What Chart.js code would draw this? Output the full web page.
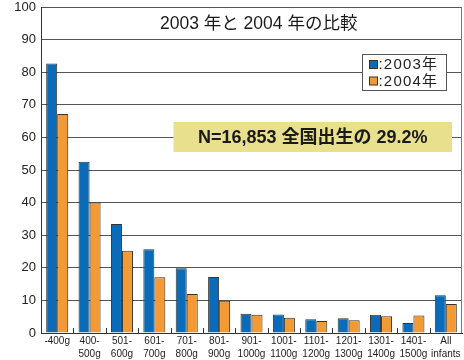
<!DOCTYPE html>
<html>
<head>
<meta charset="utf-8">
<script src="https://cdn.jsdelivr.net/npm/chart.js@4"></script>
<style>
  html, body { margin: 0; padding: 0; background: #fff; }
  #wrap { width: 464px; height: 360px; position: relative; }
</style>
</head>
<body>
<div id="wrap"><canvas id="c" width="464" height="360"></canvas></div>
<script>
// ---- data ----
const categories = [
  ['-400g'], ['400-', '500g'], ['501-', '600g'], ['601-', '700g'], ['701-', '800g'],
  ['801-', '900g'], ['901-', '1000g'], ['1001-', '1100g'], ['1101-', '1200g'],
  ['1201-', '1300g'], ['1301-', '1400g'], ['1401-', '1500g'], ['All', 'infants']
];
const series2003 = [82.7, 52.5, 33.4, 25.7, 19.9, 17.2, 5.9, 5.7, 4.2, 4.5, 5.6, 3.1, 11.6];
const series2004 = [67.2, 40.0, 25.2, 17.1, 12.0, 9.9, 5.6, 4.7, 3.7, 3.9, 5.1, 5.4, 8.9];
const seriesLabels = [':2003年', ':2004年'];
const yTickValues = [0, 10, 20, 30, 40, 50, 60, 70, 80, 90, 100];
const titleText = '2003 年と 2004 年の比較';
const noteText = 'N=16,853 全国出生の 29.2%';

const FONT = "'Liberation Sans', 'Noto Sans CJK JP', sans-serif";

const overlay = {
  id: 'overlay',
  afterDatasetsDraw(chart) {
    const ctx = chart.ctx;
    const a = chart.chartArea;
    const xs = chart.scales.x;
    ctx.save();
    // right border
    ctx.strokeStyle = '#777';
    ctx.lineWidth = 1;
    ctx.beginPath();
    ctx.moveTo(a.right - 0.5, a.top);
    ctx.lineTo(a.right - 0.5, a.bottom);
    ctx.stroke();
    // inner tick marks between categories
    ctx.strokeStyle = '#333';
    const n = chart.data.labels.length;
    for (let i = 0; i < n - 1; i++) {
      const x = Math.round((xs.getPixelForValue(i) + xs.getPixelForValue(i + 1)) / 2) + 0.5;
      ctx.beginPath();
      ctx.moveTo(x, a.bottom);
      ctx.lineTo(x, a.bottom - 5);
      ctx.stroke();
    }
    // title
    ctx.fillStyle = '#1a1a1a';
    ctx.font = "17.5px " + FONT;
    ctx.textAlign = 'center';
    ctx.textBaseline = 'middle';
    ctx.fillText(titleText, a.left + (a.right - a.left) * 0.517, a.top + 17.5);
    // legend box
    const lx = a.right - 99.5, ly = a.top + 47.5, lw = 84, lh = 36;
    ctx.fillStyle = '#fff';
    ctx.fillRect(lx, ly, lw, lh);
    ctx.strokeStyle = '#555';
    ctx.strokeRect(lx, ly, lw, lh);
    chart.data.datasets.forEach((ds, i) => {
      const ry = ly + 6 + i * 16.5;
      ctx.fillStyle = ds.backgroundColor;
      ctx.fillRect(lx + 7, ry, 8, 8);
      ctx.strokeStyle = '#333';
      ctx.strokeRect(lx + 7, ry, 8, 8);
      ctx.fillStyle = '#222';
      ctx.font = "15px " + FONT;
      ctx.letterSpacing = '1.2px';
      ctx.textAlign = 'left';
      ctx.textBaseline = 'middle';
      ctx.fillText(ds.label, lx + 16, ry + 4.5);
      ctx.letterSpacing = '0px';
    });
    // note box
    const nx = a.left + 132.5, ny = a.top + 115, nw = a.right - 10 - nx, nh = 30;
    ctx.fillStyle = '#E9E08E';
    ctx.fillRect(nx, ny, nw, nh);
    ctx.fillStyle = '#1a1a1a';
    ctx.font = "bold 18px " + FONT;
    ctx.textAlign = 'center';
    ctx.textBaseline = 'middle';
    ctx.fillText(noteText, nx + nw / 2, ny + nh / 2 + 1);
    ctx.restore();
  }
};

new Chart(document.getElementById('c'), {
  type: 'bar',
  data: {
    labels: categories,
    datasets: [
      { label: seriesLabels[0], data: series2003, backgroundColor: '#0A6CB8',
        borderColor: '#333', borderWidth: 1, borderSkipped: 'bottom' },
      { label: seriesLabels[1], data: series2004, backgroundColor: '#F39A35',
        borderColor: '#333', borderWidth: 1, borderSkipped: 'bottom' }
    ]
  },
  options: {
    responsive: false,
    animation: false,
    layout: { padding: { top: 7, right: 2, left: 0, bottom: 0 } },
    datasets: { bar: { categoryPercentage: 0.68, barPercentage: 1.0 } },
    plugins: { legend: { display: false }, tooltip: { enabled: false } },
    scales: {
      x: {
        grid: { display: false, drawTicks: false },
        border: { display: true, color: '#333', width: 1 },
        ticks: {
          color: '#222', padding: 2, maxRotation: 0, autoSkip: false,
          font: { family: FONT, size: 10, lineHeight: 1.3 }
        },
        afterFit(s) { s.height = 27; s.paddingLeft = 0; s.paddingRight = 0; }
      },
      y: {
        min: 0, max: 100,
        afterBuildTicks(s) { s.ticks = yTickValues.map(v => ({ value: v })); },
        grid: { color: '#555', lineWidth: 1, drawTicks: false },
        border: { display: true, color: '#333', width: 1 },
        ticks: {
          color: '#222', padding: 5,
          font: { family: FONT, size: 13 }
        },
        afterFit(s) { s.width = 41; s.paddingTop = 0; s.paddingBottom = 0; }
      }
    }
  },
  plugins: [overlay]
});
</script>
</body>
</html>
